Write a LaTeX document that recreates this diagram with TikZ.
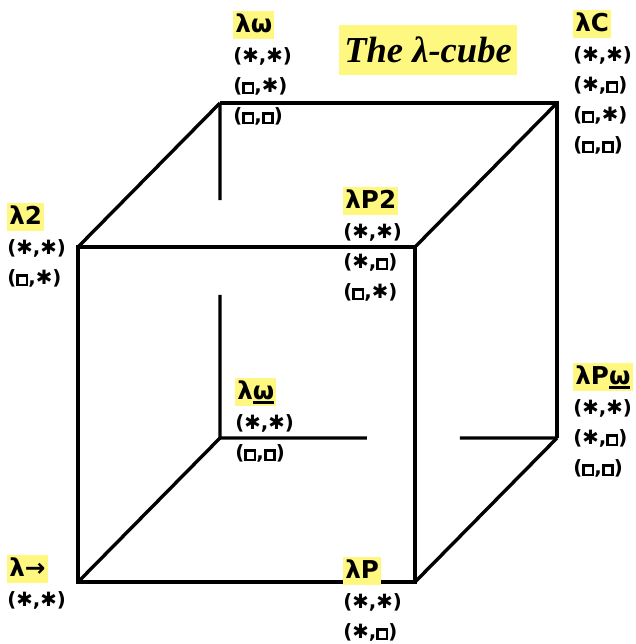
\documentclass[tikz,border=0pt]{standalone}
\usepackage{fontspec}
\setmainfont{DejaVu Sans}
\newfontfamily\headfont{Liberation Serif}
\usetikzlibrary{positioning,calc}
\newcommand{\kstar}{✱}
\newcommand{\kbox}{\raisebox{0.6pt}{\setlength{\fboxsep}{0pt}\setlength{\fboxrule}{2pt}\fbox{\rule{0pt}{4.6pt}\hspace{4.6pt}}}}
\newcommand{\wbar}[1]{\leavevmode\vtop{\hbox{#1}\kern1pt\hrule height 1.6pt}}

\begin{document}
\begin{tikzpicture}[
    x=0.025cm, y=-0.025cm,
    edge/.style={line width=2.4pt, black},
    sysname/.style={
      anchor=north west, fill=yellow!50, inner xsep=1.5pt, inner ysep=0.7pt,
      font=\fontsize{17.5}{20}\selectfont\bfseries, text height=14.5pt, text depth=3.5pt
    },
    sorts/.style={
      below=6pt of #1.south west, anchor=north west, inner sep=0pt,
      align=left, font=\fontsize{14}{21.3}\selectfont\bfseries
    },
    headline/.style={
      fill=yellow!50, inner xsep=4pt, inner ysep=8.5pt,
      font=\headfont\fontsize{26}{28}\selectfont\bfseries\itshape
    }
  ]
  \useasboundingbox (0,0) rectangle (636,644);

  % --- corners of the cube ---
  \coordinate (v-arr)  at (78,582);
  \coordinate (v-P)    at (415,582);
  \coordinate (v-two)  at (78,247);
  \coordinate (v-Ptwo) at (415,247);
  \coordinate (v-wu)   at (220,438);
  \coordinate (v-Pwu)  at (557,438);
  \coordinate (v-w)    at (220,103);
  \coordinate (v-C)    at (557,103);

  % --- front face ---
  \draw[edge] (v-arr) -- (v-P) -- (v-Ptwo) -- (v-two) -- cycle;

  % --- back face (hidden parts left open) ---
  \draw[edge] (v-w) -- (v-C) -- (v-Pwu);
  \draw[edge] (v-w) -- ($(v-w)!0.29!(v-wu)$);
  \draw[edge] ($(v-w)!0.573!(v-wu)$) -- (v-wu);
  \draw[edge] (v-wu) -- ($(v-wu)!0.436!(v-Pwu)$);
  \draw[edge] ($(v-wu)!0.712!(v-Pwu)$) -- (v-Pwu);

  % --- depth edges ---
  \draw[edge] (v-arr) -- (v-wu);
  \draw[edge] (v-P) -- (v-Pwu);
  \draw[edge] (v-two) -- (v-w);
  \draw[edge] (v-Ptwo) -- (v-C);

  % --- systems ---
  \node[sysname] (n-w) at (233,11) {λω};
  \node[sorts=n-w] (t-w) {(\kstar,\kstar)\\(\kbox,\kstar)\\(\kbox,\kbox)};

  \node[sysname] (n-C) at (573,10) {λC};
  \node[sorts=n-C] (t-C) {(\kstar,\kstar)\\(\kstar,\kbox)\\(\kbox,\kstar)\\(\kbox,\kbox)};

  \node[sysname] (n-two) at (7,203) {λ2};
  \node[sorts=n-two] (t-two) {(\kstar,\kstar)\\(\kbox,\kstar)};

  \node[sysname] (n-Ptwo) at (343,187) {λP2};
  \node[sorts=n-Ptwo] (t-Ptwo) {(\kstar,\kstar)\\(\kstar,\kbox)\\(\kbox,\kstar)};

  \node[sysname] (n-wu) at (235,378) {λ\wbar{ω}};
  \node[sorts=n-wu] (t-wu) {(\kstar,\kstar)\\(\kbox,\kbox)};

  \node[sysname] (n-Pwu) at (573,363) {λP\wbar{ω}};
  \node[sorts=n-Pwu] (t-Pwu) {(\kstar,\kstar)\\(\kstar,\kbox)\\(\kbox,\kbox)};

  \node[sysname] (n-arr) at (7,555) {λ→};
  \node[sorts=n-arr] (t-arr) {(\kstar,\kstar)};

  \node[sysname] (n-P) at (343,557) {λP};
  \node[sorts=n-P] (t-P) {(\kstar,\kstar)\\(\kstar,\kbox)};

  % --- title ---
  \node[headline] (ttl) at (428,50) {The λ-cube};
\end{tikzpicture}
\end{document}
